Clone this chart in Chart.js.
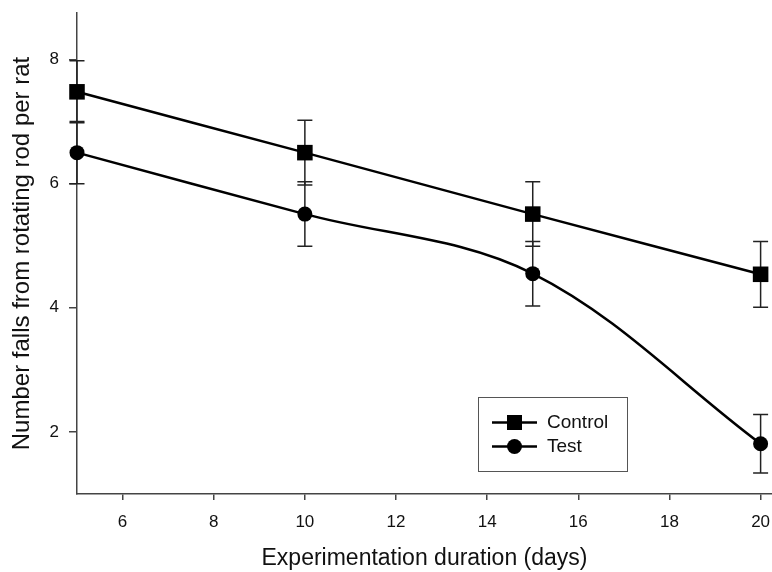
<!DOCTYPE html>
<html>
<head>
<meta charset="utf-8">
<script src="https://cdn.jsdelivr.net/npm/chart.js@4"></script>
<style>
html,body{margin:0;padding:0;background:#fff;}
#wrap{width:772px;height:572px;}
</style>
</head>
<body>
<div id="wrap"><canvas id="c" width="772" height="572"></canvas></div>
<script>
const days = [5, 10, 15, 20];
const controlMeans = [7.48, 6.50, 5.51, 4.54];
const controlErr = [0.50, 0.52, 0.52, 0.53];
const testMeans = [6.50, 5.51, 4.55, 1.81];
const testErr = [0.50, 0.52, 0.52, 0.47];
const xTicks = [6, 8, 10, 12, 14, 16, 18, 20];
const yTicks = [2, 4, 6, 8];
const seriesNames = ['Control', 'Test'];
const xTitle = 'Experimentation duration (days)';
const yTitle = 'Number falls from rotating rod per rat';

const FONT = "'Liberation Sans', Arial, sans-serif";

const errorBars = {
  id: 'errorBars',
  beforeDatasetsDraw(chart) {
    const ctx = chart.ctx;
    const xs = chart.scales.x, ys = chart.scales.y;
    const errs = [controlErr, testErr];
    ctx.save();
    ctx.strokeStyle = '#222';
    ctx.lineWidth = 1.5;
    chart.data.datasets.forEach((ds, i) => {
      ds.data.forEach((p, j) => {
        const x = xs.getPixelForValue(p.x);
        const yT = ys.getPixelForValue(p.y + errs[i][j]);
        const yB = ys.getPixelForValue(p.y - errs[i][j]);
        ctx.beginPath();
        ctx.moveTo(x, yT); ctx.lineTo(x, yB);
        ctx.moveTo(x - 7.5, yT); ctx.lineTo(x + 7.5, yT);
        ctx.moveTo(x - 7.5, yB); ctx.lineTo(x + 7.5, yB);
        ctx.stroke();
      });
    });
    ctx.restore();
  }
};

const boxLegend = {
  id: 'boxLegend',
  afterDraw(chart) {
    const ctx = chart.ctx;
    const bx = 478, by = 397, bw = 149, bh = 74;
    ctx.save();
    ctx.fillStyle = '#fff';
    ctx.fillRect(bx, by, bw, bh);
    ctx.strokeStyle = '#555';
    ctx.lineWidth = 1;
    ctx.strokeRect(bx + 0.5, by + 0.5, bw, bh);
    const rows = [by + 25.5, by + 49.5];
    chart.data.datasets.forEach((ds, i) => {
      const y = rows[i];
      ctx.strokeStyle = '#000';
      ctx.lineWidth = 2.5;
      ctx.beginPath();
      ctx.moveTo(492, y); ctx.lineTo(537, y);
      ctx.stroke();
      ctx.fillStyle = '#000';
      if (i === 0) {
        ctx.fillRect(514.5 - 7.5, y - 7.5, 15, 15);
      } else {
        ctx.beginPath();
        ctx.arc(514.5, y, 7.5, 0, Math.PI * 2);
        ctx.fill();
      }
      ctx.font = '19px ' + FONT;
      ctx.textBaseline = 'middle';
      ctx.textAlign = 'left';
      ctx.fillStyle = '#111';
      ctx.fillText(ds.label, 547, y);
    });
    ctx.restore();
  }
};

new Chart(document.getElementById('c'), {
  type: 'line',
  data: {
    datasets: [
      {
        label: seriesNames[0],
        data: days.map((d, i) => ({x: d, y: controlMeans[i]})),
        borderColor: '#000', backgroundColor: '#000', borderWidth: 2.5,
        pointStyle: 'rect', pointRadius: 11, pointBorderWidth: 0,
        tension: 0.35, fill: false, clip: false
      },
      {
        label: seriesNames[1],
        data: days.map((d, i) => ({x: d, y: testMeans[i]})),
        borderColor: '#000', backgroundColor: '#000', borderWidth: 2.5,
        pointStyle: 'circle', pointRadius: 7.5, pointBorderWidth: 0,
        tension: 0.35, fill: false, clip: false
      }
    ]
  },
  options: {
    responsive: false,
    animation: false,
    layout: {autoPadding: false, padding: {top: 13, right: 0, left: 0, bottom: 0}},
    plugins: {legend: {display: false}, tooltip: {enabled: false}},
    scales: {
      x: {
        type: 'linear', min: 5, max: 20.25,
        afterBuildTicks: s => { s.ticks = xTicks.map(v => ({value: v})); },
        afterFit: s => { s.height = 78; s.paddingLeft = 0; s.paddingRight = 0; },
        grid: {drawOnChartArea: false, drawTicks: true, tickLength: 6, color: '#444', lineWidth: 1.5},
        border: {display: true, color: '#444', width: 1.5},
        ticks: {color: '#111', font: {family: FONT, size: 17}, padding: 12, maxRotation: 0},
        title: {display: true, text: xTitle, color: '#111', font: {family: FONT, size: 23}, padding: {top: 0, bottom: 0}}
      },
      y: {
        type: 'linear', min: 1, max: 8.75,
        afterBuildTicks: s => { s.ticks = yTicks.map(v => ({value: v})); },
        afterFit: s => { s.width = 77; s.paddingTop = 0; s.paddingBottom = 0; },
        grid: {drawOnChartArea: false, drawTicks: true, tickLength: 8, color: '#444', lineWidth: 1.5},
        border: {display: true, color: '#444', width: 1.5},
        ticks: {color: '#111', font: {family: FONT, size: 17}, padding: 10},
        title: {display: true, text: yTitle, color: '#111', font: {family: FONT, size: 24}, padding: {top: 8, bottom: 0}}
      }
    }
  },
  plugins: [errorBars, boxLegend]
});
</script>
</body>
</html>
